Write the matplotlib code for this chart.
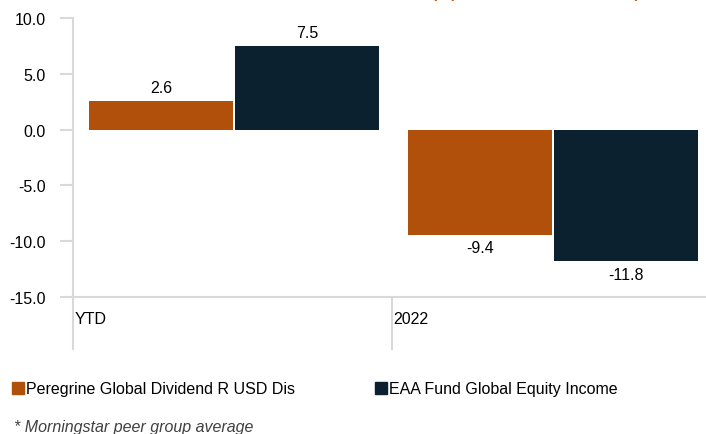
import matplotlib.pyplot as plt
from matplotlib.patches import Patch

categories = ["YTD", "2022"]
series_names = ["Peregrine Global Dividend R USD Dis", "EAA Fund Global Equity Income"]
fund_values = [2.6, -9.4]
peer_values = [7.5, -11.8]
y_ticks = [10.0, 5.0, 0.0, -5.0, -10.0, -15.0]

ORANGE = "#B0500A"
NAVY = "#0B2130"
GRID = "#D9D9D9"

plt.rcParams["font.family"] = ["Liberation Sans", "DejaVu Sans"]
plt.rcParams["font.size"] = 11.5

fig = plt.figure(figsize=(7.06, 4.35), dpi=100)
ax = fig.add_axes([73 / 706, 1 - 298 / 435, 638 / 706, 279 / 435])

width = 0.451
x = list(range(len(categories)))
bars1 = ax.bar([i + 0.050 for i in x], fund_values, width=width, align="edge", color=ORANGE)
bars2 = ax.bar([i + 0.508 for i in x], peer_values, width=width, align="edge", color=NAVY)

for bars in (bars1, bars2):
    for b in bars:
        v = b.get_height()
        cx = b.get_x() + b.get_width() / 2
        if v >= 0:
            ax.annotate(f"{v:.1f}", (cx, v), xytext=(0, 4), textcoords="offset points",
                        ha="center", va="bottom")
        else:
            ax.annotate(f"{v:.1f}", (cx, v), xytext=(0, -4), textcoords="offset points",
                        ha="center", va="top")

ax.set_xlim(0, 2)
ax.set_ylim(-15, 10)
ax.set_yticks(y_ticks)
ax.set_yticklabels([f"{t:.1f}" for t in y_ticks])
ax.tick_params(axis="y", length=9.5, width=1.5, color=GRID, pad=10)
ax.set_xticks([])

for s in ("top", "right"):
    ax.spines[s].set_visible(False)
for s in ("left", "bottom"):
    ax.spines[s].set_color(GRID)
    ax.spines[s].set_linewidth(1.5)

# category separators running below the axis
for i, c in enumerate(categories):
    ax.plot([i, i], [-15, -15 - 52 / 11.16], color=GRID, lw=1.5, clip_on=False)
    ax.annotate(c, (i, -15), xytext=(1, -10), textcoords="offset points",
                ha="left", va="top")

# title, mostly cut off at the top edge
fig.text(457 / 706, 1 + 2 / 435, "Total Return (%)", color="#C0601A", fontweight="bold",
         fontsize=11.5, ha="right", va="baseline")
fig.text(640 / 706, 1 + 2 / 435, "vs Benchmark Index*)", color="#C0601A", fontweight="bold",
         fontsize=11.5, ha="right", va="baseline")

fig.legend(handles=[Patch(color=ORANGE)], labels=[series_names[0]],
           loc="center left", bbox_to_anchor=(-2 / 706, 1 - 390 / 435), frameon=False,
           handlelength=0.7, handleheight=0.7, handletextpad=0.15)
fig.legend(handles=[Patch(color=NAVY)], labels=[series_names[1]],
           loc="center left", bbox_to_anchor=(361 / 706, 1 - 390 / 435), frameon=False,
           handlelength=0.7, handleheight=0.7, handletextpad=0.15)

fig.text(14 / 706, 1 - 428 / 435, "* Morningstar peer group average", style="italic",
         color="#404040", ha="left", va="center")

fig.savefig("out.png", dpi=100)
